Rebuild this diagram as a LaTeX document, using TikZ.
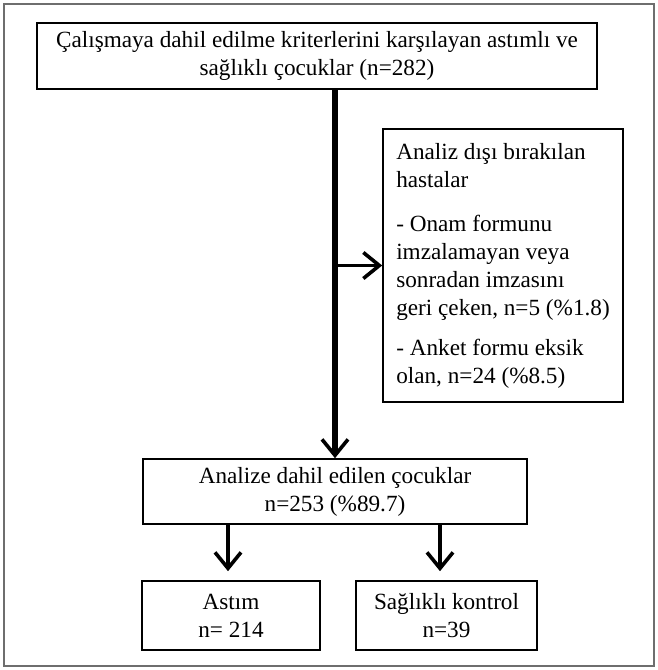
\documentclass[tikz,border=0pt]{standalone}
\usepackage{fontspec}
\setmainfont{Liberation Serif}
\usetikzlibrary{arrows.meta}
\tikzstyle{block} = [rectangle, draw, line width=0.8pt, fill=white, text centered, inner sep=0pt, font=\fontsize{11.6}{14}\selectfont]
\tikzstyle{arrow} = [line width=2.6pt, -{Straight Barb[length=8pt,width=13pt,line width=1.8pt]}]
\definecolor{frame1}{RGB}{110,110,110}

\begin{document}
\begin{tikzpicture}[x=0.5pt, y=-0.5pt]
	% Frame
	\useasboundingbox (0,0) rectangle (658,670);
	\draw [frame1, line width=0.8pt] (4,4) rectangle (654,666);

	% Boxes
	\node [block, minimum width=280pt, minimum height=33pt, align=center] (T01) at (317,56) {Çalışmaya dahil edilme kriterlerini karşılayan astımlı ve\\sağlıklı çocuklar (n=282)};
	\node [block, minimum width=120pt, minimum height=136.5pt, align=left] (S01) at (503,265.5) {Analiz dışı bırakılan\\hastalar\\[8pt]- Onam formunu\\imzalamayan veya\\sonradan imzasını\\geri çeken, n=5 (\%1.8)\\[6pt]- Anket formu eksik\\olan, n=24 (\%8.5)};
	\node [block, minimum width=192pt, minimum height=32.5pt, align=center] (M01) at (335,491.5) {Analize dahil edilen çocuklar\\n=253 (\%89.7)};
	\node [block, minimum width=89pt, minimum height=34.5pt, align=center] (G01) at (231,615.5) {Astım\\n= 214};
	\node [block, minimum width=90.5pt, minimum height=34.5pt, align=center] (G02) at (446.5,615.5) {Sağlıklı kontrol\\n=39};
	\coordinate (G01top) at ([xshift=-1.5pt]G01.north);
	\coordinate (G02top) at ([xshift=-3.25pt]G02.north);

	% Arrows
	\draw [arrow] (T01.south -| M01.north) to (M01.north);
	\draw [arrow, line width=1.8pt] (M01.north |- S01.west) to (S01.west);
	\draw [arrow, line width=2.2pt, shorten >=4.5pt] (M01.south -| G01top) to (G01top);
	\draw [arrow, line width=2.2pt, shorten >=4.5pt] (M01.south -| G02top) to (G02top);
\end{tikzpicture}
\end{document}
